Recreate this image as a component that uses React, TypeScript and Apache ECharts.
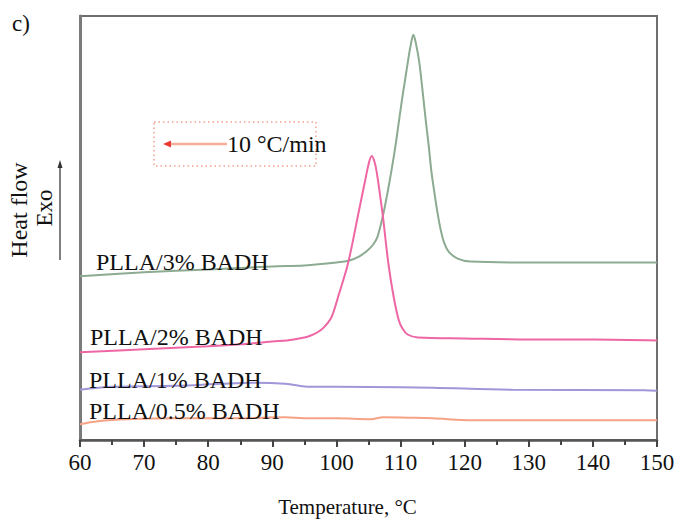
import React, { useEffect, useRef } from "react";
import * as echarts from "echarts";

// Temperature (°C) and heat flow (a.u., exo up)
const t3 = [60, 70, 80, 90, 95, 100, 102, 103.5, 104.8, 105.7, 106.4, 107.3, 108.0, 108.6, 109.2, 109.7, 110.2, 110.7, 111.2, 111.6, 112.0, 112.4, 112.9, 113.3, 113.9, 114.4, 114.8, 115.3, 115.8, 116.3, 116.8, 117.5, 118.9, 120.9, 130, 140, 150];
const v3 = [166, 170, 173, 176, 177, 180, 182, 186, 192, 198, 206, 229, 252, 274, 298, 321, 344, 365, 386, 401, 411, 402, 384, 362, 326, 298, 273, 250, 229, 212, 200, 191, 184, 181, 180, 180, 180];

const t2 = [60, 70, 80, 85, 90, 92.3, 95, 96, 97, 98, 99.1, 99.7, 100.3, 101.8, 103.4, 104.5, 105.1, 105.5, 105.9, 106.3, 107.2, 108.1, 108.9, 109.7, 110.3, 111.1, 112.7, 120, 130, 140, 150];
const v2 = [89, 92, 95, 97, 100, 101, 104, 106, 109, 114, 123, 133, 146, 179, 229, 264, 282, 288, 283, 271, 229, 179, 146, 122, 113, 107, 104, 103, 102, 102, 101];

const t1 = [60, 65, 75, 82, 87, 92, 96, 100, 110, 115, 127.5, 148, 150];
const v1 = [51, 54, 55, 57, 58, 57, 54, 54, 53.5, 53, 51, 50.5, 50];

const t05 = [60, 62.8, 67.5, 75, 85, 92, 95, 100, 105.3, 107.3, 112.3, 115, 121.4, 150];
const v05 = [16, 19, 21, 22, 22, 23, 22, 22, 21, 23, 22.5, 22, 20, 20];

const seriesNames = ["PLLA/3% BADH", "PLLA/2% BADH", "PLLA/1% BADH", "PLLA/0.5% BADH"];
const xTicks = [60, 70, 80, 90, 100, 110, 120, 130, 140, 150];
const rateLabel = "10 °C/min";

const FONT = "'Liberation Serif', 'Times New Roman', serif";

const zip = (t: number[], v: number[]) => t.map((x, i) => [x, v[i]]);

export default function App() {
  const ref = useRef<HTMLDivElement>(null);
  useEffect(() => {
    if (!ref.current) return;
    const chart = echarts.init(ref.current, null, { renderer: "svg" });
    const colors = ["#8cab91", "#ee67a4", "#9f97d8", "#f5a285"];
    const data = [zip(t3, v3), zip(t2, v2), zip(t1, v1), zip(t05, v05)];
    const labelPos = [
      [96, 262],
      [90, 337],
      [89, 380],
      [89, 411],
    ];
    chart.setOption({
      animation: false,
      backgroundColor: "#ffffff",
      grid: {
        left: 80,
        right: 24,
        top: 16,
        bottom: 76,
        show: true,
        borderColor: "#6e6e6e",
        borderWidth: 2,
        containLabel: false,
      },
      xAxis: {
        type: "value",
        min: xTicks[0],
        max: xTicks[xTicks.length - 1],
        interval: 10,
        name: "Temperature, °C",
        nameLocation: "middle",
        nameGap: 56,
        nameTextStyle: {
          fontFamily: FONT,
          fontSize: 21,
          color: "#111",
          padding: [0, 42, 0, 0],
        },
        axisLine: { show: true, onZero: false, lineStyle: { color: "#555", width: 2.5 } },
        axisTick: { show: true, inside: false, length: 7, lineStyle: { color: "#444", width: 2 } },
        minorTick: { show: true, splitNumber: 2, length: 5, lineStyle: { color: "#444", width: 2 } },
        splitLine: { show: false },
        axisLabel: { fontFamily: FONT, fontSize: 23, color: "#111", margin: 11 },
      },
      yAxis: {
        type: "value",
        min: 0,
        max: 430,
        axisLine: { show: true, lineStyle: { color: "#7a7a7a", width: 3 } },
        axisTick: { show: false },
        axisLabel: { show: false },
        splitLine: { show: false },
      },
      series: data.map((d, i) => ({
        type: "line",
        name: seriesNames[i],
        data: d,
        smooth: 0.35,
        showSymbol: false,
        lineStyle: { color: colors[i], width: 2 },
        z: 3,
      })),
      graphic: [
        ...seriesNames.map((n, i) => ({
          type: "text",
          x: labelPos[i][0],
          y: labelPos[i][1],
          style: {
            text: n,
            fontFamily: FONT,
            fontSize: 24,
            fill: "#111",
            textAlign: "left",
            textVerticalAlign: "middle",
          },
          z: 10,
        })),
        {
          type: "text",
          x: 12,
          y: 23,
          style: { text: "c)", fontFamily: FONT, fontSize: 23, fill: "#111", textVerticalAlign: "middle" },
        },
        {
          type: "text",
          x: 19,
          y: 210,
          rotation: Math.PI / 2,
          style: {
            text: "Heat flow",
            fontFamily: FONT,
            fontSize: 24,
            fill: "#111",
            textAlign: "center",
            textVerticalAlign: "middle",
          },
        },
        {
          type: "text",
          x: 44,
          y: 208,
          rotation: Math.PI / 2,
          style: {
            text: "Exo",
            fontFamily: FONT,
            fontSize: 23,
            fill: "#111",
            textAlign: "center",
            textVerticalAlign: "middle",
          },
        },
        {
          type: "line",
          shape: { x1: 60, y1: 260, x2: 60, y2: 166 },
          style: { stroke: "#555", lineWidth: 1.5 },
        },
        {
          type: "polygon",
          shape: { points: [[60, 160], [57.5, 168], [62.5, 168]] },
          style: { fill: "#333" },
        },
        {
          type: "rect",
          shape: { x: 154, y: 122, width: 162, height: 44 },
          style: { fill: "none", stroke: "#f4a090", lineWidth: 1.5, lineDash: [1.5, 3] },
        },
        {
          type: "line",
          shape: { x1: 168, y1: 144, x2: 227, y2: 144 },
          style: { stroke: "#f7ad97", lineWidth: 2.5 },
        },
        {
          type: "polygon",
          shape: { points: [[163, 144], [171, 140.5], [171, 147.5]] },
          style: { fill: "#e83a30" },
        },
        {
          type: "text",
          x: 227,
          y: 144,
          style: {
            text: rateLabel,
            fontFamily: FONT,
            fontSize: 24,
            fill: "#111",
            textAlign: "left",
            textVerticalAlign: "middle",
          },
        },
      ],
    });
    return () => chart.dispose();
  }, []);
  return (
    <div
      ref={ref}
      style={{ position: "fixed", left: 0, top: 0, width: 681, height: 522, background: "#fff" }}
    />
  );
}
